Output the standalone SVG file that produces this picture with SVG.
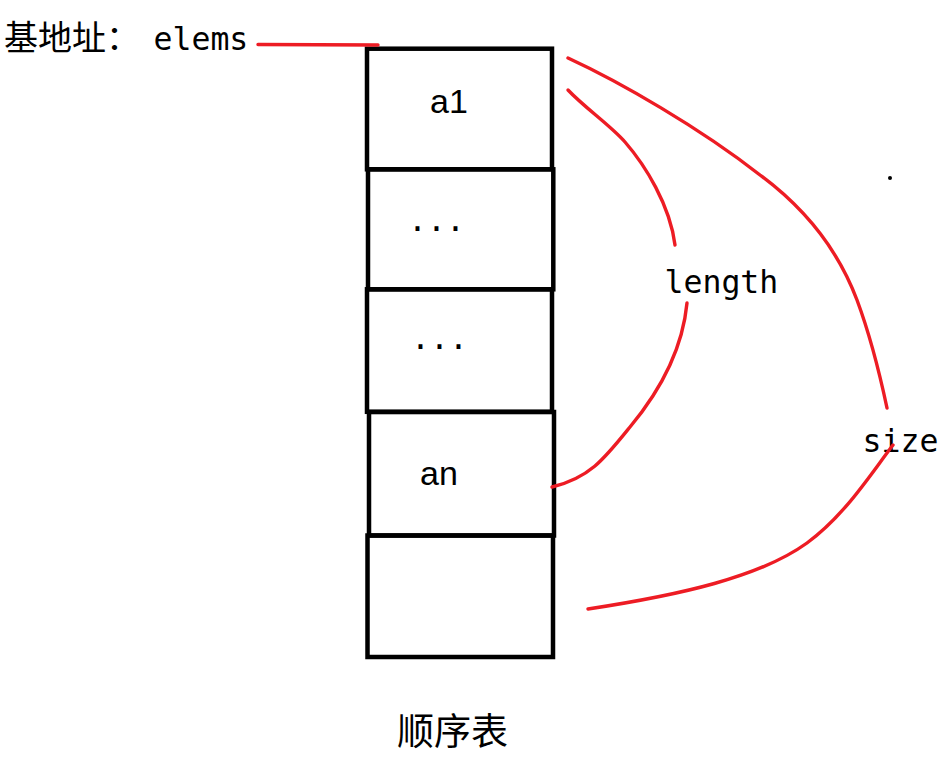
<svg xmlns="http://www.w3.org/2000/svg" width="946" height="760" viewBox="0 0 946 760">
<style>
.cell{fill:none;stroke:#000;stroke-width:4.5;}
.red{fill:none;stroke:#ed1c24;stroke-width:3.4;stroke-linecap:round;stroke-linejoin:round;}
.mono{font-family:"DejaVu Sans Mono","Liberation Mono",monospace;font-size:31.5px;fill:#000;}
.sans{font-family:"Liberation Sans","Noto Sans CJK SC",sans-serif;font-size:34px;fill:#000;}
.cjk{font-family:"Noto Sans CJK SC","Noto Sans CJK JP",sans-serif;fill:#000;}
</style>
<rect width="946" height="760" fill="#fff"/>
<g id="base-label">
<text x="4" y="50"><tspan class="cjk" font-size="34">基地址：</tspan><tspan class="mono" x="153.5">elems</tspan></text>
</g>
<g id="cell-a1"><rect class="cell" x="367" y="48.7" width="185" height="120.6"/><text class="sans" x="430" y="113">a1</text></g>
<g id="cell-dots1"><rect class="cell" x="368" y="169.3" width="185.3" height="120"/><text class="mono" x="408" y="231">...</text></g>
<g id="cell-dots2"><rect class="cell" x="367" y="289.3" width="185" height="122.5"/><text class="mono" x="411" y="349">...</text></g>
<g id="cell-an"><rect class="cell" x="369" y="412" width="185" height="123.5"/><text class="sans" x="420" y="485">an</text></g>
<g id="cell-empty"><rect class="cell" x="367.5" y="535.5" width="185.5" height="121.5"/></g>
<g id="label-length"><text class="mono" x="664.5" y="292.5">length</text></g>
<g id="label-size"><text class="mono" x="862.5" y="452">size</text></g>
<g id="title"><text class="cjk" font-size="37" x="397" y="745">顺序表</text></g>
<circle cx="890" cy="178" r="2" fill="#000"/>
<g id="connectors">
<path class="red" d="M258,44.5 L378,45" stroke-width="4.2"/>
<path class="red" d="M568,90 C585,108 610,125 625,142 C645,165 670,205 675,245"/>
<path class="red" d="M687,303 C683,345 665,385 630,427 C605,458 590,478 552,487"/>
<path class="red" d="M568,58 C620,82 700,128 760,175 C810,212 840,255 857,300 C870,335 880,375 887,408"/>
<path class="red" d="M893,445 C870,475 845,515 807,543 C760,577 680,595 588,609"/>
</g>
</svg>
